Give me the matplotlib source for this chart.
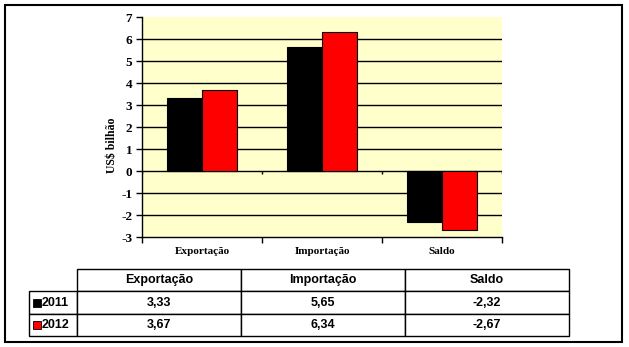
import numpy as np
import matplotlib
matplotlib.use("Agg")
import matplotlib.pyplot as plt
from matplotlib.patches import Rectangle

plt.rcParams["axes.unicode_minus"] = False

categorias = ["Exportação", "Importação", "Saldo"]
anos = ["2011", "2012"]
valores_2011 = [3.33, 5.65, -2.32]
valores_2012 = [3.67, 6.34, -2.67]
rotulos_2011 = ["3,33", "5,65", "-2,32"]
rotulos_2012 = ["3,67", "6,34", "-2,67"]
cores = ["#000000", "#FF0000"]

W, H = 629, 347
fig = plt.figure(figsize=(W / 100, H / 100), dpi=100)
fig.patch.set_facecolor("white")

def fx(px):
    return px / W

def fy(py):
    return 1 - py / H

# moldura externa
fig.patches.append(Rectangle((fx(5), fy(342)), fx(617), 337 / H, transform=fig.transFigure,
                             fill=False, edgecolor="black", linewidth=1.5))

serif = {"family": "Liberation Serif", "weight": "bold", "size": 8}

ax = fig.add_axes([fx(142), fy(237), fx(360), 220 / H])
ax.set_facecolor("#FFFFCC")
x = np.arange(len(categorias))
w = 0.29
ax.bar(x - w / 2, valores_2011, w, color=cores[0], edgecolor="black", linewidth=0.8, zorder=3)
ax.bar(x + w / 2, valores_2012, w, color=cores[1], edgecolor="black", linewidth=0.8, zorder=3)

ax.set_xlim(-0.5, 2.5)
ax.set_ylim(-3, 7)
ax.set_yticks(range(-3, 8))
for v in range(-2, 7):
    ax.axhline(v, color="black", linewidth=1, zorder=2)
# marcas no eixo zero entre as categorias
ax.vlines(np.arange(-0.5, 3, 1), -0.14, 0, color="black", linewidth=1, zorder=2)

for s in ["top", "right"]:
    ax.spines[s].set_visible(False)
for s in ["left", "bottom"]:
    ax.spines[s].set_linewidth(1)

ax.set_xticks(np.arange(-0.5, 3, 1))
ax.set_xticklabels([])
ax.tick_params(axis="x", length=4, width=1, direction="out")
ax.tick_params(axis="y", length=4, width=1, direction="out", pad=3)
for lab in ax.get_yticklabels():
    lab.set_fontfamily("Liberation Serif")
    lab.set_fontweight("bold")
    lab.set_fontsize(9.5)
for i, c in enumerate(categorias):
    ax.text(i, -3.65, c, ha="center", va="center", fontdict=serif)

fig.text(fx(112), fy(145), "US$ bilhão", rotation=90, ha="center", va="center",
         family="Liberation Serif", weight="bold", size=8.5)

# tabela de dados: primeira coluna com os anos
tab_ax = fig.add_axes([0, 0, 1, 1])
tab_ax.axis("off")
linhas = [[anos[0]] + rotulos_2011, [anos[1]] + rotulos_2012]
tab = tab_ax.table(cellText=linhas, colLabels=[""] + categorias,
                   colWidths=[48 / W] + [164 / W] * 3,
                   cellLoc="center", colLoc="center",
                   bbox=[fx(29), fy(336), fx(540), 67 / H])
tab.auto_set_font_size(False)
for (r, c), cell in tab.get_celld().items():
    cell.set_linewidth(1)
    cell.set_edgecolor("black")
    t = cell.get_text()
    t.set_fontsize(9)
    t.set_fontfamily("Liberation Sans")
    t.set_fontweight("bold")
    if c == 0:
        t.set_ha("left")
        cell._loc = "left"
        cell.PAD = 0.27
tab[(0, 0)].visible_edges = ""

for i, cor in enumerate(cores):
    yc = 303 + 22 * i
    tab_ax.add_patch(Rectangle((fx(33), fy(yc + 4)), fx(8), 8 / H, transform=fig.transFigure,
                               facecolor=cor, edgecolor="black", linewidth=0.6, zorder=5))

fig.savefig("out.png", dpi=100)
